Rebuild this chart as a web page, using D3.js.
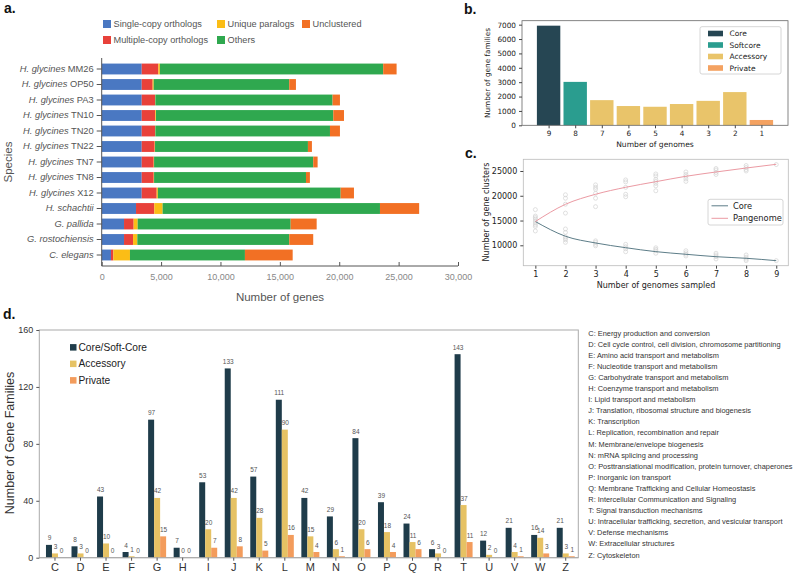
<!DOCTYPE html>
<html><head><meta charset="utf-8">
<script src="https://cdn.jsdelivr.net/npm/d3@7"></script>
<style>body{margin:0;background:#fff}svg{display:block}</style>
</head><body>
<svg id="c" width="794" height="574"></svg>
<script>
// ---------- Panel a data ----------
const speciesItalic = ["H. glycines","H. glycines","H. glycines","H. glycines","H. glycines","H. glycines","H. glycines","H. glycines","H. glycines","H. schachtii","G. pallida","G. rostochiensis","C. elegans"];
const speciesStrain = ["MM26","OP50","PA3","TN10","TN20","TN22","TN7","TN8","X12","","","",""];
const singleCopy   = [3370,3370,3370,3370,3370,3370,3370,3370,3370,2890,1880,1880,780];
const multiCopy    = [1400,920,1120,1140,1120,1090,1010,1010,1260,1540,810,760,200];
const uniqueParal  = [130,90,30,60,30,30,30,30,100,700,340,360,1400];
const others       = [18800,11410,14920,14930,14700,12875,13400,12790,15390,18300,12880,12790,9680];
const unclustered  = [1130,565,620,900,840,335,370,330,1120,3300,2190,2020,4020];
const aSeries = ["Single-copy orthologs","Multiple-copy orthologs","Unique paralogs","Others","Unclustered"];
const aTicks = [0,5000,10000,15000,20000,25000,30000];

// ---------- Panel b data ----------
const bGenomes = ["9","8","7","6","5","4","3","2","1"];
const bFamilies = [6930,3020,1750,1340,1290,1480,1700,2310,370];
const bClass = ["Core","Softcore","Accessory","Accessory","Accessory","Accessory","Accessory","Accessory","Private"];
const bLegend = ["Core","Softcore","Accessory","Private"];

// ---------- Panel c data ----------
const cSampled = [1,2,3,4,5,6,7,8,9];
const cPanCurve = [14800,18280,20300,21710,22840,23930,24800,25600,26350];
const cCoreCurve = [14800,11830,10470,9520,8720,8190,7700,7380,6900];
const cPanPoints = [
  [17200,15900,15600,15300,14900,14500,14100,13800,12900],
  [20200,19500,18300,16500],
  [22200,21700,21300,20500,19500,17800],
  [23200,22800,21700,20300,19800],
  [24400,24000,23300,22900,22500,22000,21000],
  [24800,24300,23900,23400,22900],
  [25500,25200,24700,24300],
  [26100,25700,25300,25000],
  [26300]];
const cCorePoints = [
  [],
  [13300,12600,11700,11400,11100,10600],
  [10900,10600,10200,9900],
  [10200,9700,9300,8700],
  [9500,9200,8900,8400],
  [8900,8500,8200,7850],
  [8400,8050,7700,7250],
  [8050,7600,7200,6900],
  [6900]];

// ---------- Panel d data ----------
const dCats = ["C","D","E","F","G","H","I","J","K","L","M","N","O","P","Q","R","T","U","V","W","Z"];
const dCore = [9,8,43,4,97,7,53,133,57,111,42,29,84,39,24,6,143,12,21,16,21];
const dAcc  = [3,3,10,1,42,0,20,42,28,90,15,6,20,18,11,3,37,2,4,14,3];
const dPriv = [0,0,0,0,15,0,7,8,5,16,4,1,6,4,6,0,11,0,1,3,1];
const dSeries = ["Core/Soft-Core","Accessory","Private"];
const dTicks = [0,40,80,120,160];
const dDesc = ["C: Energy production and conversion",
"D: Cell cycle control, cell division, chromosome partitioning",
"E: Amino acid transport and metabolism",
"F: Nucleotide transport and metabolism",
"G: Carbohydrate transport and metabolism",
"H: Coenzyme transport and metabolism",
"I: Lipid transport and metabolism",
"J: Translation, ribosomal structure and biogenesis",
"K: Transcription",
"L: Replication, recombination and repair",
"M: Membrane/envelope biogenesis",
"N: mRNA splicing and processing",
"O: Posttranslational modification, protein turnover, chaperones",
"P: Inorganic ion transport",
"Q: Membrane Trafficking and Cellular Homeostasis",
"R: Intercellular Communication and Signaling",
"T: Signal transduction mechanisms",
"U: Intracellular trafficking, secretion, and vesicular transport",
"V: Defense mechanisms",
"W: Extracellular structures",
"Z: Cytoskeleton"];

const svg = d3.select("#c");
const ARIAL = "Liberation Sans, Arial, Helvetica, sans-serif";
const DEJA = "DejaVu Sans, sans-serif";

function panelLabel(t,x,y){
  svg.append("text").attr("x",x).attr("y",y).text(t)
    .attr("font-family",ARIAL).attr("font-weight","bold").attr("font-size",14).attr("fill","#111");
}

// ================= Panel a =================
(function(){
  const g = svg.append("g");
  const aColors = ["#4a78c2","#e8413a","#fbbd16","#2fa84f","#f27024"];
  const x = d3.scaleLinear().domain([0,30000]).range([101.7,458]);
  const idx = d3.range(speciesItalic.length);
  const y = d3.scaleBand().domain(idx).range([61.25,262.75]).paddingInner(0.3).paddingOuter(0.15);
  const cols = [singleCopy,multiCopy,uniqueParal,others,unclustered];
  const rows = idx.map(i=>{const o={i}; aSeries.forEach((s,k)=>o[s]=cols[k][i]); return o;});
  const stack = d3.stack().keys(aSeries)(rows);
  stack.forEach((layer,k)=>{
    g.selectAll(null).data(layer).join("rect")
      .attr("x",d=>x(d[0])).attr("width",d=>Math.max(0,x(d[1])-x(d[0])))
      .attr("y",d=>y(d.data.i)).attr("height",y.bandwidth())
      .attr("fill",aColors[k]);
  });
  const ax = g.append("g").attr("transform","translate(0,266)")
    .call(d3.axisBottom(x).tickValues(aTicks).tickFormat(d3.format(",")).tickSize(-4).tickPadding(8));
  ax.select(".domain").attr("stroke","#555").attr("d","M101.7,0H458");
  ax.selectAll(".tick line").attr("stroke","#555");
  ax.selectAll("text").attr("font-family",ARIAL).attr("font-size",9).attr("fill","#888");
  const ay = g.append("g").attr("transform","translate(101.7,0)")
    .call(d3.axisLeft(y).tickSize(5).tickPadding(3).tickFormat(""));
  ay.select(".domain").attr("stroke","#555").attr("d","M0,58V266");
  ay.selectAll(".tick line").attr("stroke","#555");
  ay.selectAll(".tick").append("text").attr("x",-8).attr("dy","0.32em")
    .attr("text-anchor","end").attr("font-family",ARIAL).attr("font-size",9.3).attr("fill","#555")
    .each(function(i){
      const t=d3.select(this);
      t.append("tspan").attr("font-style","italic").text(speciesItalic[i]);
      if(speciesStrain[i]) t.append("tspan").text(" "+speciesStrain[i]);
    });
  g.append("text").attr("x",280).attr("y",301).attr("text-anchor","middle")
    .attr("font-family",ARIAL).attr("font-size",11.5).attr("fill","#555").text("Number of genes");
  g.append("text").attr("transform","translate(12,162) rotate(-90)").attr("text-anchor","middle")
    .attr("font-family",ARIAL).attr("font-size",11.5).attr("fill","#555").text("Species");
  const legPos = [[103,24],[103,40],[217,24],[217,40],[302,24]];
  [0,1,2,3,4].forEach(k=>{
    const [lx,ly]=legPos[k];
    g.append("rect").attr("x",lx).attr("y",ly-4).attr("width",8).attr("height",8).attr("fill",aColors[k]);
    g.append("text").attr("x",lx+10.5).attr("y",ly+3.2).attr("font-family",ARIAL).attr("font-size",9.2)
      .attr("fill","#555").text(aSeries[k]);
  });
  panelLabel("a.",4,13);
})();

// ================= Panel b =================
(function(){
  const g = svg.append("g");
  const cmap = {"Core":"#264653","Softcore":"#2a9d8f","Accessory":"#e9c46a","Private":"#f4a261"};
  const x = d3.scaleLinear().domain([-1,9]).range([522,788]);
  const y = d3.scaleLinear().domain([0,7276]).range([125.3,20.7]);
  const w = (x(1)-x(0))*0.88;
  g.selectAll(null).data(bFamilies).join("rect")
    .attr("x",(d,i)=>x(i)-w/2).attr("width",w)
    .attr("y",d=>y(d)).attr("height",d=>y(0)-y(d))
    .attr("fill",(d,i)=>cmap[bClass[i]]);
  g.append("rect").attr("x",522).attr("y",20.7).attr("width",266).attr("height",104.6)
    .attr("fill","none").attr("stroke","#666").attr("stroke-width",0.8);
  const ay = g.append("g").attr("transform","translate(522,0)")
    .call(d3.axisLeft(y).tickValues(d3.range(0,7001,1000)).tickFormat(d3.format("d")).tickSize(3).tickPadding(3));
  ay.select(".domain").remove();
  ay.selectAll("text").attr("font-family",DEJA).attr("font-size",7.3).attr("fill","#222");
  ay.selectAll("line").attr("stroke","#444");
  const ax = g.append("g").attr("transform","translate(0,125.3)")
    .call(d3.axisBottom(x).tickValues(d3.range(0,9)).tickFormat(i=>bGenomes[i]).tickSize(3).tickPadding(2.5));
  ax.select(".domain").remove();
  ax.selectAll("text").attr("font-family",DEJA).attr("font-size",7.3).attr("fill","#222");
  ax.selectAll("line").attr("stroke","#444");
  g.append("text").attr("x",655).attr("y",147).attr("text-anchor","middle")
    .attr("font-family",DEJA).attr("font-size",7.6).attr("fill","#222").text("Number of genomes");
  g.append("text").attr("transform","translate(490,73) rotate(-90)").attr("text-anchor","middle")
    .attr("font-family",DEJA).attr("font-size",7.3).attr("fill","#222").text("Number of gene families");
  g.append("rect").attr("x",700).attr("y",26.7).attr("width",81).attr("height",47.3).attr("rx",2)
    .attr("fill","#fff").attr("stroke","#ccc").attr("stroke-width",0.8);
  bLegend.forEach((k,i)=>{
    const ly = 33.5+i*11.5;
    g.append("rect").attr("x",708).attr("y",ly-2.8).attr("width",15).attr("height",5.6).attr("fill",cmap[k]);
    g.append("text").attr("x",729.5).attr("y",ly+2.7).attr("font-family",DEJA).attr("font-size",7.5)
      .attr("fill","#222").text(k);
  });
  panelLabel("b.",464,14);
})();

// ================= Panel c =================
(function(){
  const g = svg.append("g");
  const x = d3.scaleLinear().domain([0.6,9.4]).range([523.3,788.3]);
  const y = d3.scaleLinear().domain([5884,27360]).range([265.7,159.3]);
  const pts = [];
  cPanPoints.forEach((arr,i)=>arr.forEach(v=>pts.push([cSampled[i],v])));
  cCorePoints.forEach((arr,i)=>arr.forEach(v=>pts.push([cSampled[i],v])));
  g.selectAll(null).data(pts).join("circle")
    .attr("cx",d=>x(d[0])).attr("cy",d=>y(d[1])).attr("r",2)
    .attr("fill","none").attr("stroke","#d2d2d2").attr("stroke-width",0.7);
  const line = d3.line().x((d,i)=>x(cSampled[i])).y(d=>y(d)).curve(d3.curveMonotoneX);
  g.append("path").attr("d",line(cCoreCurve)).attr("fill","none").attr("stroke","#5d7d88").attr("stroke-width",1);
  g.append("path").attr("d",line(cPanCurve)).attr("fill","none").attr("stroke","#eb9aa3").attr("stroke-width",1);
  g.append("rect").attr("x",523.3).attr("y",159.3).attr("width",265).attr("height",106.4)
    .attr("fill","none").attr("stroke","#bbb").attr("stroke-width",0.8);
  const ay = g.append("g").attr("transform","translate(523.3,0)")
    .call(d3.axisLeft(y).tickValues([10000,15000,20000,25000]).tickFormat(d3.format("d")).tickSize(3).tickPadding(3));
  ay.select(".domain").remove();
  ay.selectAll("text").attr("font-family",DEJA).attr("font-size",8).attr("fill","#222");
  ay.selectAll("line").attr("stroke","#444");
  const ax = g.append("g").attr("transform","translate(0,265.7)")
    .call(d3.axisBottom(x).tickValues(cSampled).tickFormat(d3.format("d")).tickSize(3).tickPadding(2.5));
  ax.select(".domain").remove();
  ax.selectAll("text").attr("font-family",DEJA).attr("font-size",8).attr("fill","#222");
  ax.selectAll("line").attr("stroke","#444");
  g.append("text").attr("x",656).attr("y",288).attr("text-anchor","middle")
    .attr("font-family",DEJA).attr("font-size",8).attr("fill","#222").text("Number of genomes sampled");
  g.append("text").attr("transform","translate(489,212) rotate(-90)").attr("text-anchor","middle")
    .attr("font-family",DEJA).attr("font-size",8).attr("fill","#222").text("Number of gene clusters");
  g.append("rect").attr("x",708).attr("y",199.3).attr("width",75).attr("height",25.7).attr("rx",2)
    .attr("fill","#fff").attr("stroke","#ccc").attr("stroke-width",0.8);
  [["Core","#5d7d88"],["Pangenome","#eb9aa3"]].forEach(([t,c],i)=>{
    const ly = 205.8+i*12.5;
    g.append("line").attr("x1",711.5).attr("x2",728).attr("y1",ly).attr("y2",ly).attr("stroke",c).attr("stroke-width",1);
    g.append("text").attr("x",733).attr("y",ly+3).attr("font-family",DEJA).attr("font-size",8.3)
      .attr("fill","#222").text(t);
  });
  panelLabel("c.",465,158);
})();

// ================= Panel d =================
(function(){
  const g = svg.append("g");
  const dColors = ["#1f3c4a","#e6c264","#f39c5c"];
  const x = d3.scaleBand().domain(dCats).range([42.2,578.5]);
  const y = d3.scaleLinear().domain([0,160]).range([557.7,330]);
  const cols = [dCore,dAcc,dPriv];
  const bw = 6;
  const offs = [-9,-3,3];
  g.append("rect").attr("x",39.3).attr("y",330).attr("width",539).attr("height",227.7)
    .attr("fill","none").attr("stroke","#aaa").attr("stroke-width",1);
  cols.forEach((arr,k)=>{
    g.selectAll(null).data(arr).join("rect")
      .attr("x",(d,i)=>x(dCats[i])+x.bandwidth()/2+offs[k]).attr("width",bw)
      .attr("y",d=>y(d)).attr("height",d=>y(0)-y(d)).attr("fill",dColors[k]);
    g.selectAll(null).data(arr).join("text")
      .attr("x",(d,i)=>x(dCats[i])+x.bandwidth()/2+offs[k]+bw/2+0.5).attr("y",d=>y(d)-4.5)
      .attr("text-anchor","middle").attr("font-family",ARIAL).attr("font-size",6.5).attr("fill","#555")
      .text(d=>d);
  });
  const ax = g.append("g").attr("transform","translate(0,557.7)")
    .call(d3.axisBottom(x).tickSize(3).tickPadding(2.5));
  ax.select(".domain").attr("stroke","#aaa").attr("d","M39.3,0H578.3");
  ax.selectAll("line").attr("stroke","#555");
  ax.selectAll("text").attr("font-family",ARIAL).attr("font-size",11).attr("fill","#333");
  const ay = g.append("g").attr("transform","translate(39.3,0)")
    .call(d3.axisLeft(y).tickValues(dTicks).tickSize(3).tickPadding(3));
  ay.select(".domain").remove();
  ay.selectAll("line").attr("stroke","#555");
  ay.selectAll("text").attr("font-family",ARIAL).attr("font-size",9).attr("fill","#333");
  g.append("text").attr("transform","translate(14,443) rotate(-90)").attr("text-anchor","middle")
    .attr("font-family",ARIAL).attr("font-size",12.5).attr("fill","#333").text("Number of Gene Families");
  dSeries.forEach((s,k)=>{
    const ly = 347.3+k*16.5;
    g.append("rect").attr("x",70).attr("y",ly-3.2).attr("width",6.5).attr("height",6.5).attr("fill",dColors[k]);
    g.append("text").attr("x",78.5).attr("y",ly+3.6).attr("font-family",ARIAL).attr("font-size",10.2)
      .attr("fill","#222").text(s);
  });
  g.selectAll(null).data(dDesc).join("text")
    .attr("x",588.3).attr("y",(d,i)=>335.5+i*11.1)
    .attr("font-family",ARIAL).attr("font-size",7.4).attr("fill","#333").text(d=>d);
  panelLabel("d.",3,319);
})();
</script>
</body></html>
